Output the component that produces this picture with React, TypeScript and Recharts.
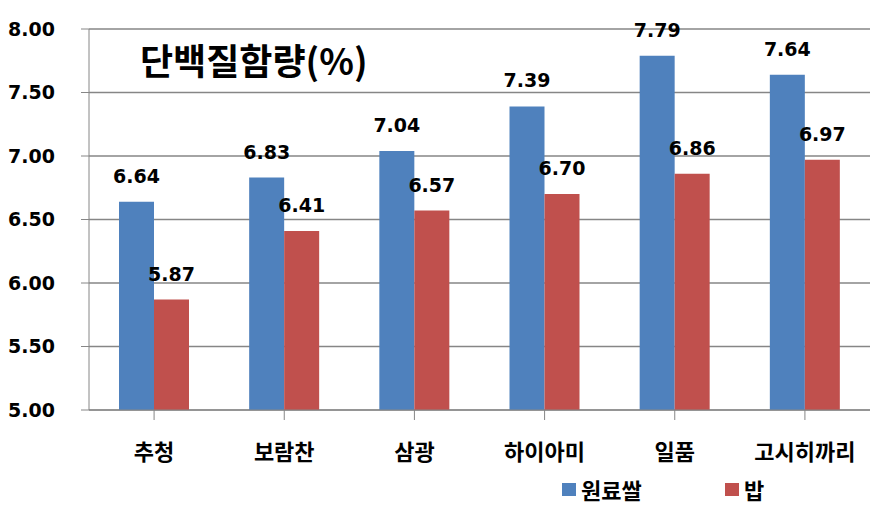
import React from 'react';
import { BarChart, Bar, XAxis, YAxis, CartesianGrid, LabelList } from 'recharts';

const varieties = ['추청', '보람찬', '삼광', '하이아미', '일품', '고시히까리'];
const rawRice = [6.64, 6.83, 7.04, 7.39, 7.79, 7.64];
const cookedRice = [5.87, 6.41, 6.57, 6.70, 6.86, 6.97];
const yTicks = [5.0, 5.5, 6.0, 6.5, 7.0, 7.5, 8.0];

const data = varieties.map((name, i) => ({
  name,
  원료쌀: rawRice[i],
  밥: cookedRice[i],
}));

const KR = '"Noto Sans CJK KR", "Noto Sans", sans-serif';
const NUM = '"DejaVu Sans", sans-serif';

const numStyle = { fill: '#000', fontSize: 19, fontWeight: 700, fontFamily: NUM };

export default function App() {
  return (
    <div style={{ position: 'absolute', left: 0, top: 0, width: 871, height: 521, background: '#fff' }}>
      <BarChart
        width={871}
        height={521}
        data={data}
        margin={{ top: 29, right: 1, left: 0, bottom: 0 }}
        barGap={0}
        barSize={35}
      >
        <CartesianGrid vertical={false} stroke="#868686" strokeWidth={1.5} />
        <XAxis
          dataKey="name"
          stroke="#868686"
          tickSize={10}
          tickMargin={24}
          height={111}
          tick={{ fill: '#000', fontSize: 22, fontWeight: 700, fontFamily: KR }}
        />
        <YAxis
          domain={[5, 8]}
          ticks={yTicks}
          width={89}
          stroke="#868686"
          tickSize={8}
          tickMargin={26}
          tickFormatter={(v: number) => v.toFixed(2)}
          tick={numStyle}
        />
        <Bar dataKey="원료쌀" fill="#4F81BD" isAnimationActive={false}>
          <LabelList
            dataKey="원료쌀"
            position="top"
            offset={19}
            formatter={(v: number) => v.toFixed(2)}
            style={numStyle}
          />
        </Bar>
        <Bar dataKey="밥" fill="#C0504D" isAnimationActive={false}>
          <LabelList
            dataKey="밥"
            position="top"
            offset={19}
            formatter={(v: number) => v.toFixed(2)}
            style={numStyle}
          />
        </Bar>
      </BarChart>
      <div
        style={{
          position: 'absolute',
          left: 140,
          top: 38,
          fontFamily: KR,
          fontWeight: 700,
          fontSize: 36,
          color: '#000',
          lineHeight: '42px',
          whiteSpace: 'nowrap',
        }}
      >
        단백질함량(%)
      </div>
      <div
        style={{
          position: 'absolute',
          left: 562,
          top: 475,
          display: 'flex',
          fontFamily: KR,
          fontWeight: 700,
          fontSize: 22,
          lineHeight: '28px',
          color: '#000',
        }}
      >
        <div style={{ display: 'flex', alignItems: 'center', width: 163 }}>
          <span style={{ width: 14, height: 13, background: '#4F81BD', marginRight: 5 }} />
          원료쌀
        </div>
        <div style={{ display: 'flex', alignItems: 'center' }}>
          <span style={{ width: 14, height: 13, background: '#C0504D', marginRight: 5 }} />
          밥
        </div>
      </div>
    </div>
  );
}
